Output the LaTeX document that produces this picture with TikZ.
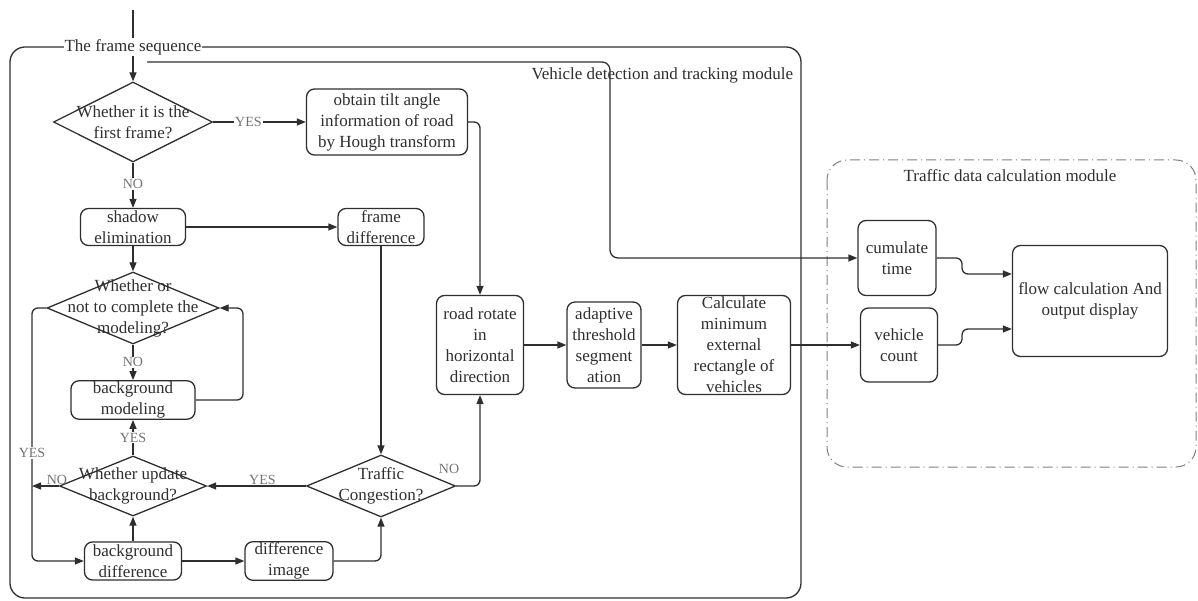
\documentclass[tikz,border=0pt]{standalone}
\usepackage{fontspec}
\setmainfont{Liberation Serif}
\usetikzlibrary{arrows.meta,shapes.geometric,positioning,calc}

\begin{document}
\begin{tikzpicture}[x=1pt,y=-1pt, color=black!82,
    font=\fontsize{17}{21}\selectfont, line width=1.3pt,
    box/.style={draw, rounded corners=8pt, align=center, inner sep=1pt},
    dec/.style={diamond, draw, inner sep=0pt},
    txt/.style={align=center, inner sep=0pt},
    lbl/.style={font=\fontsize{14}{16}\selectfont, text=black!55, inner sep=1pt},
    arr/.style={-{Triangle[length=9pt,width=7pt]}},
    module/.style={draw=black!50, line width=1pt, dash pattern=on 10pt off 4pt on 1pt off 4pt, rounded corners=20pt}
  ]
  \useasboundingbox (0,0) rectangle (1198,601);

  % vehicle detection and tracking module
  \draw[rounded corners=15pt] (10,47) rectangle (801,598);
  \node[fill=white, inner sep=1pt] (seq) at (133,47) {The frame sequence};
  \node[anchor=east] (vdt) at (797,75) {Vehicle detection and tracking module};
  \coordinate (in) at (133,10);
  \coordinate (tap) at (147,62);

  \node[dec, minimum width=159pt, minimum height=80pt] (first) at (133,122) {};
  \node[txt] (firstt) at (first) {Whether it is the\\first frame?};
  \node[box, minimum width=161pt, minimum height=66pt] (tilt) at (387,122) {obtain tilt angle\\information of road\\by Hough transform};
  \node[box, minimum width=105pt, minimum height=37pt] (shadow) at (133,227) {shadow\\elimination};
  \node[box, minimum width=86pt, minimum height=37pt] (fdiff) at (381,227) {frame\\difference};
  \node[dec, minimum width=172pt, minimum height=72pt] (model) at (133,308) {};
  \node[txt] (modelt) at (model) {Whether or\\not to complete the\\modeling?};
  \node[box, minimum width=124pt, minimum height=38pt] (bgmod) at (133,400) {background\\modeling};
  \node[dec, minimum width=147pt, minimum height=60pt] (upd) at (133,486) {};
  \node[txt] (updt) at (upd) {Whether update\\background?};
  \node[box, minimum width=97pt, minimum height=38pt] (bgdiff) at (133,561) {background\\difference};
  \node[box, minimum width=88pt, minimum height=38pt] (dimg) at (289,561) {difference\\image};
  \node[dec, minimum width=149pt, minimum height=62pt] (cong) at (381,486) {};
  \node[txt] (congt) at (cong) {Traffic\\Congestion?};
  \node[box, minimum width=87pt, minimum height=99pt] (road) at (480,345) {road rotate\\in\\horizontal\\direction};
  \node[box, minimum width=74pt, minimum height=86pt] (adapt) at (604,345) {adaptive\\threshold\\segment\\ation};
  \node[box, minimum width=113pt, minimum height=99pt, inner ysep=0pt] (rect) at (734,345) {Calculate\\minimum\\external\\rectangle of\\vehicles};

  % traffic data calculation module
  \draw[module] (827,160) rectangle (1196,467);
  \node (tdc) at (1010,176) {Traffic data calculation module};
  \node[box, minimum width=78pt, minimum height=75pt] (cum) at (897,258) {cumulate\\time};
  \node[box, minimum width=77pt, minimum height=74pt] (vcount) at (899,345) {vehicle\\count};
  \node[box, minimum width=155pt, minimum height=111pt] (flow) at (1090,301) {flow calculation And\\output display};

  % connectors
  \draw (in) -- (seq.north);
  \draw[arr] (seq.south) -- (first.north);
  \draw[arr, rounded corners=8pt] (tap) -- (610,62) |- (cum.west);
  \draw[arr] (first.east) -- node[lbl, fill=white, pos=0.38] (y1) {YES} (tilt.west);
  \draw[arr] (first.south) -- node[lbl, fill=white, pos=0.47] (n1) {NO} (shadow.north);
  \draw[arr] (shadow.east) -- (fdiff.west);
  \draw[arr] (shadow.south) -- (model.north);
  \draw[arr] (model.south) -- node[lbl, fill=white] (n2) {NO} (bgmod.north);
  \draw[arr, rounded corners=6pt] (bgmod.east) -- (243,400) |- (model.east);
  \draw[arr, rounded corners=6pt] (model.west) -- (32,308) -- (32,561) -- (bgdiff.west);
  \node[lbl, fill=white] (y2) at (32,453) {YES};
  \draw[arr] (upd.west) -- (32,486);
  \node[lbl, anchor=south] (n3) at (57,486) {NO};
  \draw[arr] (upd.north) -- node[lbl, fill=white] (y3) {YES} (bgmod.south);
  \draw[arr] (bgdiff.north) -- (upd.south);
  \draw[arr] (bgdiff.east) -- (dimg.west);
  \draw[arr, rounded corners=6pt] (dimg.east) -| (cong.south);
  \draw[arr] (fdiff.south) -- (cong.north);
  \draw[arr] (cong.west) -- node[lbl, above, pos=0.44] (y4) {YES} (upd.east);
  \draw[arr, rounded corners=6pt] (cong.east) -| (road.south);
  \node[lbl] (n4) at (449,469) {NO};
  \draw[arr, rounded corners=6pt] (tilt.east) -| (road.north);
  \draw[arr] (road.east) -- (adapt.west);
  \draw[arr] (adapt.east) -- (rect.west);
  \draw[arr] (rect.east) -- (vcount.west);
  \draw[arr, rounded corners=6pt] (cum.east) -- (962,258) -- (962,274) -- ($(flow.west)+(0,-27)$);
  \draw[arr, rounded corners=6pt] (vcount.east) -- (962,345) -- (962,329) -- ($(flow.west)+(0,28)$);
\end{tikzpicture}
\end{document}
